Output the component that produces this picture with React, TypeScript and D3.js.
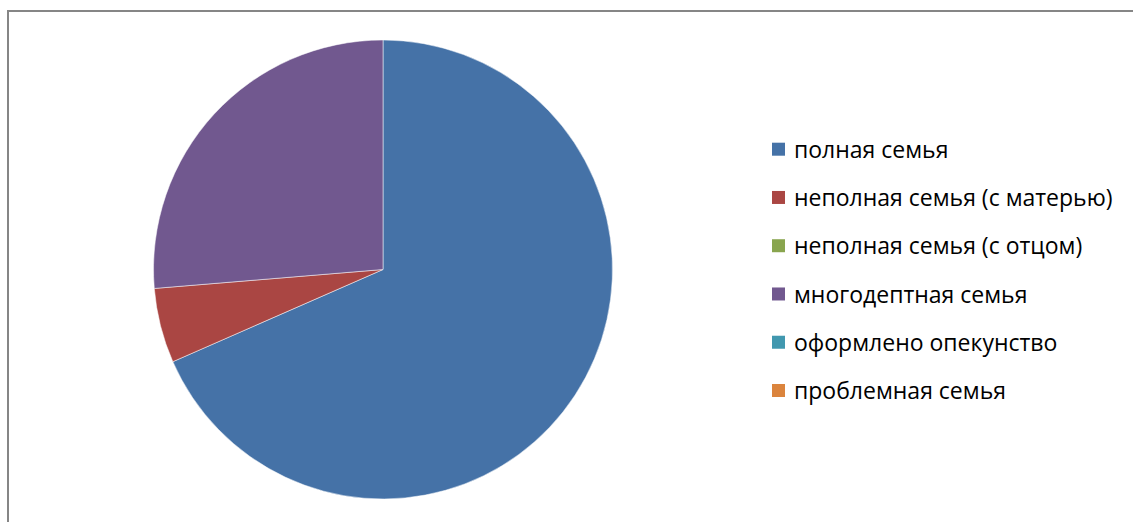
import React, { useEffect, useRef } from "react";
import * as d3 from "d3";

// Data (shares of 38 families)
const categories = [
  "полная семья",
  "неполная семья (с матерью)",
  "неполная семья (с отцом)",
  "многодептная семья",
  "оформлено опекунство",
  "проблемная семья",
];
const values = [26, 2, 0, 10, 0, 0];
const colors = ["#4572A7", "#AA4643", "#89A54E", "#71588F", "#4198AF", "#DB843D"];

const App: React.FC = () => {
  const svgRef = useRef<SVGSVGElement>(null);

  useEffect(() => {
    if (!svgRef.current) return;
    const svg = d3.select(svgRef.current);
    svg.selectAll("*").remove();

    const width = 1133;
    const height = 522;
    svg.attr("width", width).attr("height", height);

    // Chart area border (runs off the right and bottom edges)
    svg
      .append("rect")
      .attr("x", 8)
      .attr("y", 11)
      .attr("width", 1300)
      .attr("height", 700)
      .attr("fill", "#fff")
      .attr("stroke", "#868686")
      .attr("stroke-width", 2);

    const cx = 383;
    const cy = 269.5;
    const radius = 229.5;

    const pie = d3
      .pie<number>()
      .sort(null)
      .value((d) => d);
    const arc = d3.arc<d3.PieArcDatum<number>>().innerRadius(0).outerRadius(radius);

    const g = svg.append("g").attr("transform", `translate(${cx},${cy})`);
    g.selectAll("path")
      .data(pie(values).filter((d) => d.value > 0))
      .enter()
      .append("path")
      .attr("d", arc)
      .attr("fill", (d) => colors[d.index])
      .attr("stroke", "#fff")
      .attr("stroke-opacity", 0.5)
      .attr("stroke-width", 1);

    // Legend
    const legendY = d3
      .scalePoint<string>()
      .domain(categories)
      .range([149.7, 391]);

    const legend = svg
      .append("g")
      .selectAll("g")
      .data(categories)
      .enter()
      .append("g")
      .attr("transform", (d) => `translate(772,${legendY(d)})`);

    legend
      .append("rect")
      .attr("x", 0)
      .attr("y", -7)
      .attr("width", 13)
      .attr("height", 13)
      .attr("fill", (d, i) => colors[i]);

    legend
      .append("text")
      .attr("x", 22)
      .attr("y", 0)
      .attr("dy", "0.35em")
      .style("font-family", "'Open Sans', sans-serif")
      .style("font-size", "23px")
      .style("fill", "#000")
      .text((d) => d);
  }, []);

  return (
    <div>
      <svg
        ref={svgRef}
        style={{ position: "absolute", left: 0, top: 0, display: "block" }}
      ></svg>
    </div>
  );
};

export default App;
